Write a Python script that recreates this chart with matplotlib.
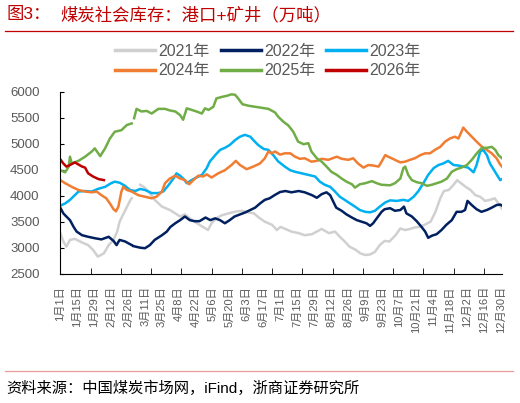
import numpy as np
import matplotlib
matplotlib.use('Agg')
import matplotlib.pyplot as plt
from matplotlib.lines import Line2D

plt.rcParams['font.family'] = ['Liberation Sans', 'Noto Sans CJK SC']
plt.rcParams['axes.unicode_minus'] = False

nan = np.nan

# (day of year, stock in 10k tons)
s2021 = [(0, 3280), (2.5, 3120), (5, 3020), (8, 3150), (12, 3170), (18, 3100), (23, 3050), (27, 2960),
         (31, 2830), (36, 2890), (40, 3050), (44, 3150), (47, 3310), (49, 3500), (53, 3690), (58, 3920),
         (59, 3950), (60, nan), (66, 4210), (69, 4170), (73, 4080), (78, 3920), (84, 3790), (91, 3720),
         (95, 3660), (99, 3600), (103, 3640), (107, 3565), (111, 3500), (115, 3440), (120, 3370),
         (122, 3340), (125, 3470), (129, 3565), (133, 3620), (139, 3660), (144, 3690), (150, 3710),
         (155, 3680), (160, 3660), (164, 3580), (169, 3500), (175, 3440), (179, 3340), (182, 3400),
         (186, 3360), (191, 3310), (197, 3280), (202, 3240), (208, 3260), (212, 3310), (216, 3360),
         (222, 3280), (227, 3310), (231, 3210), (235, 3120), (239, 3020), (244, 2960), (248, 2890),
         (252, 2860), (256, 2870), (260, 2920), (264, 3050), (268, 3130), (272, 3120), (277, 3240),
         (281, 3370), (285, 3340), (289, 3360), (293, 3390), (297, 3400), (301, 3440), (306, 3500),
         (310, 3690), (314, 3950), (317, 4090), (321, 4110), (325, 4210), (328, 4300), (330, 4260),
         (335, 4170), (339, 4110), (343, 4010), (347, 3980), (351, 3900), (355, 3920), (359, 3950),
         (362, 3850), (365, 3750)]

s2022 = [(0, 3770), (2.5, 3660), (5, 3600), (8, 3530), (11, 3400), (13.5, 3310), (18, 3240), (23, 3210),
         (29, 3180), (34, 3160), (40, 3210), (44, 3130), (46.5, 3050), (49, 3150), (53.5, 3120),
         (59, 3050), (60, nan), (60.5, 3030), (66, 3000), (70, 2990), (74, 3050), (78, 3150), (84, 3240),
         (88, 3310), (91, 3400), (95, 3470), (99, 3530), (103, 3600), (107, 3530), (111, 3510),
         (115, 3510), (120, 3580), (124, 3530), (128, 3565), (132, 3530), (136, 3470), (140, 3530),
         (144, 3600), (148.5, 3640), (153, 3680), (157, 3725), (161, 3770), (165, 3850), (169, 3920),
         (173, 3950), (177, 4010), (181.5, 4070), (186, 4090), (191, 4065), (197, 4090), (202, 4065),
         (208, 4010), (212, 3960), (216, 4030), (220, 4065), (223, 4010), (225.5, 3890), (228, 3770),
         (232.5, 3710), (236.5, 3640), (241, 3580), (245, 3530), (249, 3500), (253, 3470), (256, 3420),
         (258.5, 3470), (261.5, 3565), (265.5, 3690), (268, 3740), (272.5, 3760), (276.5, 3710),
         (281, 3725), (284, 3790), (286, 3660), (290.5, 3600), (294.5, 3510), (298.5, 3400),
         (301.5, 3310), (304, 3190), (307, 3230), (311, 3260), (315, 3340), (319, 3440), (323.5, 3530),
         (327.5, 3690), (331.5, 3690), (334.5, 3725), (336.5, 3900), (340, 3820), (344, 3740),
         (348, 3690), (352.5, 3725), (356.5, 3770), (360.5, 3820), (363.5, 3830), (365, 3810)]

s2023 = [(0, 3810), (4, 3850), (8, 3920), (12, 4010), (15, 4080), (20, 4090), (26, 4080), (31, 4130),
         (37, 4170), (42, 4240), (45, 4270), (49, 4250), (53.5, 4190), (57.5, 4110), (62, 4090),
         (66, 4130), (70, 4110), (75.5, 4050), (81, 4050), (85, 4080), (89, 4190), (93.5, 4330),
         (96, 4430), (99, 4385), (102, 4320), (104.5, 4240), (108.5, 4300), (112.5, 4350), (117, 4400),
         (121, 4530), (123.5, 4655), (128, 4780), (132, 4880), (136, 4920), (140, 4975), (144.5, 5070),
         (148.5, 5135), (152.5, 5170), (157, 5135), (159.5, 5070), (163.5, 4975), (168, 4900),
         (172, 4880), (176, 4780), (180, 4660), (185.5, 4560), (190, 4490), (194, 4460), (199.5, 4430),
         (205, 4400), (210.5, 4370), (214.5, 4270), (218.5, 4210), (223, 4170), (227, 4080),
         (231, 3980), (235, 3920), (239.5, 3850), (243.5, 3790), (247.5, 3725), (252, 3690),
         (256, 3680), (260, 3710), (264, 3790), (268.5, 3870), (272.5, 3910), (278, 3900),
         (283.5, 3920), (287.5, 3900), (292, 3980), (296, 4090), (300, 4240), (304, 4400),
         (308.5, 4530), (312.5, 4590), (316.5, 4620), (320.5, 4670), (325, 4590), (329, 4580),
         (333, 4560), (337, 4540), (341.5, 4450), (344, 4590), (347, 4850), (349.5, 4880),
         (352.5, 4780), (355, 4620), (359.5, 4450), (363.5, 4300), (365, 4320)]

s2024 = [(0, 4300), (4, 4240), (9.5, 4170), (15, 4110), (20.5, 4080), (26, 4065), (30, 4080), (34, 4010),
         (38, 3950), (41, 3850), (44, 3740), (46, 3700), (48, 3790), (50.5, 4080), (52, 4170),
         (55, 4110), (59, 4080), (64.5, 4010), (70, 3980), (75.5, 3950), (79.5, 3980), (84, 4080),
         (86.5, 4240), (90.5, 4330), (95, 4385), (99, 4330), (103, 4300), (106.5, 4220), (110, 4300),
         (114, 4385), (118, 4370), (121, 4410), (125, 4350), (130.5, 4430), (136, 4490), (141.5, 4590),
         (145, 4670), (148.5, 4590), (154, 4510), (159.5, 4560), (165, 4620), (169, 4720), (172, 4850),
         (174.5, 4815), (177.5, 4850), (181.5, 4790), (185.5, 4815), (190, 4815), (194, 4750),
         (198, 4710), (202, 4720), (207.5, 4655), (212, 4670), (216, 4710), (221.5, 4690),
         (228.5, 4750), (232.5, 4710), (238, 4690), (242, 4720), (246, 4620), (250.5, 4540),
         (254.5, 4590), (258.5, 4580), (263, 4560), (265.5, 4655), (268.5, 4780), (271, 4750),
         (276.5, 4690), (281, 4640), (285, 4655), (289, 4690), (293, 4720), (297.5, 4780),
         (301.5, 4815), (305.5, 4815), (309.5, 4880), (314, 4940), (318, 5040), (322, 5100),
         (326, 5135), (329, 5100), (331.5, 5230), (333, 5310), (336, 5230), (340, 5135), (344, 5040),
         (348.5, 4940), (352.5, 4880), (356.5, 4815), (360.5, 4720), (363.5, 4600), (365, 4560)]

s2025 = [(0, 4490), (4, 4450), (7, 4560), (8, 4750), (9.5, 4620), (15, 4670), (20.5, 4750), (26, 4850),
         (28.5, 4910), (33, 4760), (37, 4910), (41, 5100), (45, 5230), (50.5, 5260), (55, 5360),
         (59, 5390), (60, nan), (61, 5490), (63, 5670), (67, 5620), (71.5, 5630), (75.5, 5580),
         (81, 5670), (86.5, 5670), (90.5, 5640), (95, 5620), (99, 5550), (101.5, 5460), (104.5, 5680),
         (108.5, 5650), (112.5, 5620), (117, 5580), (119.5, 5680), (122.5, 5650), (126.5, 5710),
         (129, 5870), (133.5, 5900), (137.5, 5920), (141.5, 5950), (144.5, 5940), (147, 5870),
         (150.5, 5760), (155.5, 5730), (161, 5710), (166.5, 5690), (172, 5670), (177.5, 5600),
         (180, 5520), (184.5, 5420), (188.5, 5350), (192.5, 5230), (196.5, 5040), (201, 4990),
         (205, 5010), (207.5, 4850), (212, 4720), (216, 4655), (220, 4560), (224, 4460), (228.5, 4400),
         (232.5, 4330), (236.5, 4270), (241, 4220), (243.5, 4155), (247.5, 4220), (252, 4240),
         (257.5, 4280), (261.5, 4240), (265.5, 4210), (272.5, 4200), (276.5, 4240), (281, 4330),
         (283.5, 4530), (285, 4560), (287.5, 4400), (290.5, 4300), (294.5, 4260), (298.5, 4240),
         (303, 4190), (307, 4210), (311, 4240), (315, 4270), (319.5, 4330), (323.5, 4460),
         (327.5, 4510), (331.5, 4540), (336, 4590), (340, 4690), (343, 4780), (345.5, 4850),
         (348.5, 4920), (352.5, 4920), (356.5, 4940), (359.5, 4880), (362, 4780), (365, 4720)]

s2026 = [(0, 4700), (2.5, 4620), (5, 4560), (8, 4590), (12, 4640), (15, 4600), (18, 4560), (20.5, 4540),
         (23, 4430), (27, 4370), (31.5, 4320), (36, 4300)]

years = ['2021年', '2022年', '2023年', '2024年', '2025年', '2026年']
series = [s2021, s2022, s2023, s2024, s2025, s2026]
colors = ['#D0D0D0', '#002060', '#00B0F0', '#F07D32', '#70AD47', '#C00000']

tick_labels = ['1月1日', '1月15日', '1月29日', '2月12日', '2月26日', '3月11日', '3月25日',
               '4月8日', '4月22日', '5月6日', '5月20日', '6月3日', '6月17日', '7月1日',
               '7月15日', '7月29日', '8月12日', '8月26日', '9月9日', '9月23日', '10月7日',
               '10月21日', '11月4日', '11月18日', '12月2日', '12月16日', '12月30日']

W, H = 520, 403
fig = plt.figure(figsize=(W / 100, H / 100), dpi=100)
ax = fig.add_axes([60.3 / W, 1 - 273.7 / H, (502 - 60.3) / W, (273.7 - 91.7) / H])

handles = []
for s, c, lab in zip(series, colors, years):
    d = [p[0] for p in s]
    v = [p[1] for p in s]
    ln, = ax.plot(d, v, color=c, lw=1.8, label=lab, solid_joinstyle='round')
    handles.append(ln)

ax.set_xlim(0, 365)
ax.set_ylim(2500, 6000)
ax.set_yticks(range(2500, 6001, 500))
ax.spines['top'].set_visible(False)
ax.spines['right'].set_visible(False)
ax.tick_params(axis='y', direction='in', length=3, pad=15, labelsize=9.5, labelcolor='#595959')

# labels every 14 days, tick marks every 25 days
ax.xaxis.remove_overlapping_locs = False
ax.set_xticks(list(range(0, 365, 14)))
ax.set_xticklabels(tick_labels, rotation=90)
ax.tick_params(axis='x', which='major', length=0, pad=9, labelsize=8, labelcolor='#595959')
ax.set_xticks(list(range(0, 366, 25)), minor=True)
ax.tick_params(axis='x', which='minor', direction='in', length=4)

# legend fills by column, so order it to read row-wise
order = [0, 3, 1, 4, 2, 5]
leg = fig.legend([handles[i] for i in order], [years[i] for i in order], ncol=3, loc='center',
                 bbox_to_anchor=(268 / W, 1 - 61 / H), frameon=False, fontsize=11.5,
                 handlelength=2.5, handletextpad=0.2, columnspacing=0.7, labelspacing=0.3)
for t in leg.get_texts():
    t.set_color('#595959')
for h in leg.legend_handles:
    h.set_linewidth(2.5)

red = '#C00000'
fig.text(7 / W, 1 - 15 / H, '图3：', color=red, fontsize=12.5, va='center', ha='left')
fig.text(60 / W, 1 - 15 / H, '煤炭社会库存：港口+矿井（万吨）', color=red, fontsize=12.5,
         va='center', ha='left')
fig.add_artist(Line2D([5 / W, 513 / W], [1 - 31 / H, 1 - 31 / H], color=red, lw=0.9))
fig.add_artist(Line2D([5 / W, 513 / W], [1 - 371 / H, 1 - 371 / H], color='#E89A9A', lw=0.9))
fig.text(6 / W, 1 - 388 / H, '资料来源：中国煤炭市场网，iFind，浙商证券研究所', color='black',
         fontsize=11, va='center', ha='left')

fig.savefig('out.png', dpi=100)
